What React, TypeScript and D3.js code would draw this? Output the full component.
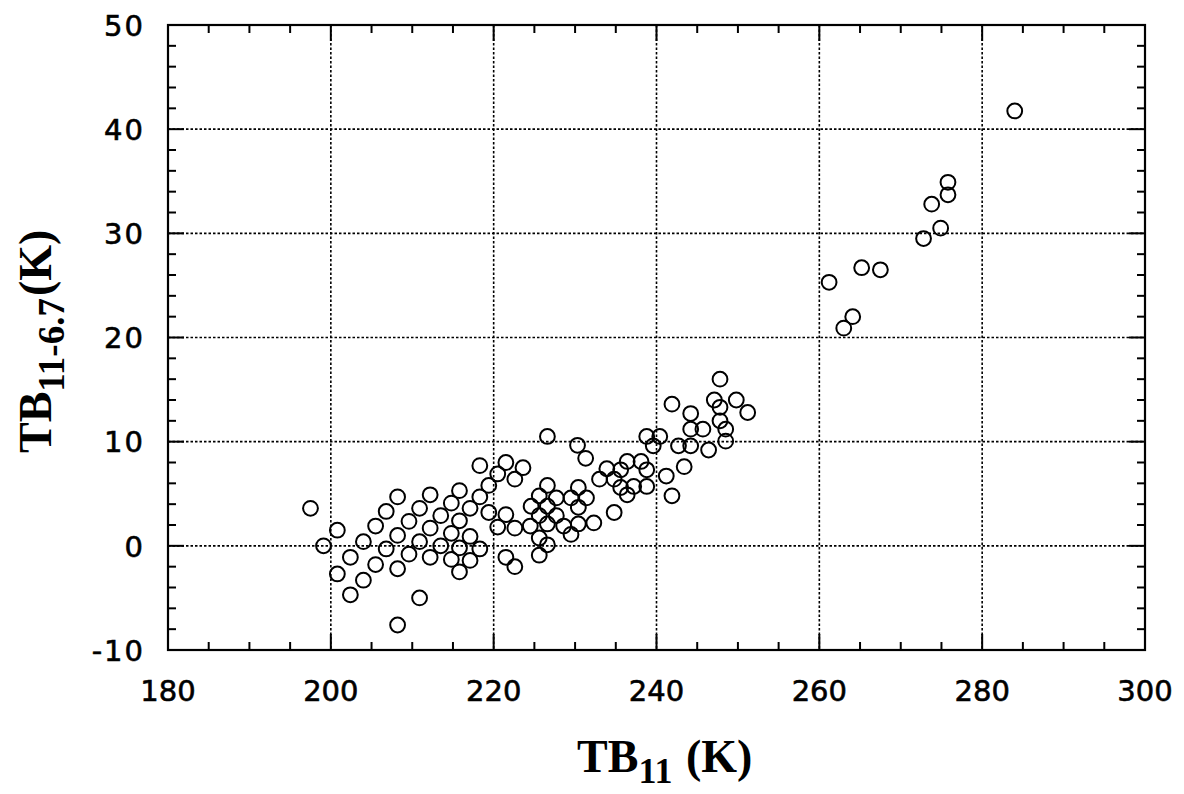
// App.tsx
import React, { useEffect, useRef } from 'react';
import * as d3 from 'd3';

// TB11 (K) of each observation
const tb11: number[] = [
  197.5, 199.1, 200.8, 200.8, 202.4, 202.4, 204.0, 204.0, 205.5, 205.5,
  206.8, 206.8, 208.2, 208.2, 208.2, 208.2, 209.6, 209.6, 210.9, 210.9,
  210.9, 212.2, 212.2, 212.2, 213.5, 213.5, 214.8, 214.8, 214.8, 215.8,
  215.8, 215.8, 215.8, 217.1, 217.1, 217.1, 218.3, 218.3, 218.3, 219.4,
  219.4, 220.5, 220.5, 221.5, 221.5, 221.5, 222.6, 222.6, 222.6, 223.6,
  224.6, 224.5, 226.6, 230.3, 231.3, 225.6, 226.6, 226.6, 227.7, 225.6,
  226.6, 227.7, 225.6, 226.6, 225.6, 228.6, 229.5, 229.5, 230.4, 230.4,
  231.4, 230.4, 232.3, 233.0, 233.9, 234.8, 234.8, 235.6, 235.6, 236.4,
  236.4, 237.2, 238.1, 238.8, 238.8, 238.8, 239.6, 240.4, 241.2, 241.9,
  241.9, 242.7, 243.4, 244.2, 244.2, 244.2, 245.7, 246.4, 247.1, 247.8,
  247.8, 247.8, 248.5, 248.5, 249.8, 251.2,
  275.8, 275.8, 273.8, 274.9, 272.8, 265.2, 267.5, 261.2, 264.1, 263.0,
  284.0,
];

// TB11 - TB6.7 (K) of each observation
const tbDiff: number[] = [
  3.6, 0.0, 1.5, -2.7, -4.7, -1.1, 0.4, -3.3, 1.9, -1.8,
  3.3, -0.3, 4.7, 1.0, -2.2, -7.6, 2.35, -0.8, 3.6, 0.4,
  -5.0, 4.9, 1.7, -1.1, 2.9, 0.0, 4.1, 1.2, -1.3, 5.3,
  2.4, -0.2, -2.5, 3.6, 0.9, -1.4, 4.7, -0.3, 7.7, 5.8,
  3.2, 6.9, 1.8, 8.0, 3.0, -1.1, 6.4, 1.7, -2.0, 7.5,
  3.8, 1.9, 10.5, 9.65, 8.4, 4.8, 5.8, 3.8, 4.6, 2.9,
  2.1, 2.9, 0.75, 0.1, -0.9, 1.9, 1.1, 4.6, 5.6, 3.7,
  4.6, 2.1, 2.2, 6.4, 7.4, 6.4, 3.2, 7.3, 5.6, 8.1,
  4.9, 5.7, 8.1, 7.3, 5.7, 10.5, 9.6, 10.5, 6.7, 13.6,
  4.8, 9.6, 7.6, 12.7, 11.2, 9.6, 11.2, 9.2, 14.0, 13.3,
  12.0, 16.0, 11.2, 10.05, 14.0, 12.8,
  34.9, 33.7, 32.8, 30.5, 29.5, 26.7, 26.5, 25.3, 22.0, 20.9,
  41.75,
];

const xTicks: number[] = [180, 200, 220, 240, 260, 280, 300];
const yTicks: number[] = [-10, 0, 10, 20, 30, 40, 50];

const ScatterTB = () => {
  const svgRef = useRef<SVGSVGElement | null>(null);

  useEffect(() => {
    const svg = d3.select(svgRef.current);
    svg.selectAll('*').remove();

    const width = 1184;
    const height = 794;
    const left = 168, right = 1145, top = 25, bottom = 650;

    const x = d3.scaleLinear().domain([180, 300]).range([left, right]);
    const y = d3.scaleLinear().domain([-10, 50]).range([bottom, top]);

    svg.attr('width', width).attr('height', height);

    // dotted grid
    const grid = svg.append('g')
      .attr('stroke', '#000')
      .attr('stroke-width', 1.6)
      .attr('stroke-dasharray', '2.5,2');
    grid.selectAll('.vg')
      .data(xTicks.slice(1, -1))
      .join('line')
      .attr('x1', d => x(d)).attr('x2', d => x(d))
      .attr('y1', top).attr('y2', bottom);
    grid.selectAll('.hg')
      .data(yTicks.slice(1, -1))
      .join('line')
      .attr('x1', left).attr('x2', right)
      .attr('y1', d => y(d)).attr('y2', d => y(d));

    // inward ticks on all four sides
    const xMinor = d3.range(180, 300.1, 5);
    const yMinor = d3.range(-10, 50.1, 2);
    const tickLen = (major: boolean) => (major ? 16 : 8);
    const ticks = svg.append('g').attr('stroke', '#000').attr('stroke-width', 2);
    xMinor.forEach(v => {
      const len = tickLen(v % 20 === 0);
      ticks.append('line').attr('x1', x(v)).attr('x2', x(v)).attr('y1', bottom).attr('y2', bottom - len);
      ticks.append('line').attr('x1', x(v)).attr('x2', x(v)).attr('y1', top).attr('y2', top + len);
    });
    yMinor.forEach(v => {
      const len = tickLen(v % 10 === 0);
      ticks.append('line').attr('x1', left).attr('x2', left + len).attr('y1', y(v)).attr('y2', y(v));
      ticks.append('line').attr('x1', right).attr('x2', right - len).attr('y1', y(v)).attr('y2', y(v));
    });

    // frame
    svg.append('rect')
      .attr('x', left).attr('y', top)
      .attr('width', right - left).attr('height', bottom - top)
      .attr('fill', 'none')
      .attr('stroke', '#000')
      .attr('stroke-width', 2.2);

    // points
    const pts = tb11.map((v, i) => ({ x: v, y: tbDiff[i] }));
    svg.append('g')
      .selectAll('circle')
      .data(pts)
      .join('circle')
      .attr('cx', d => x(d.x))
      .attr('cy', d => y(d.y))
      .attr('r', 7.4)
      .attr('fill', 'none')
      .attr('stroke', '#000')
      .attr('stroke-width', 2);

    // tick labels
    svg.append('g')
      .selectAll('text')
      .data(xTicks)
      .join('text')
      .attr('x', d => x(d))
      .attr('y', 701)
      .attr('text-anchor', 'middle')
      .attr('font-family', 'DejaVu Sans')
      .attr('font-size', 29)
      .attr('stroke', '#000')
      .attr('stroke-width', 0.6)
      .text(d => d);

    svg.append('g')
      .selectAll('text')
      .data(yTicks)
      .join('text')
      .attr('x', 145)
      .attr('y', d => y(d))
      .attr('dy', '0.37em')
      .attr('text-anchor', 'end')
      .attr('font-family', 'DejaVu Sans')
      .attr('font-size', 29)
      .attr('letter-spacing', 2)
      .attr('stroke', '#000')
      .attr('stroke-width', 0.6)
      .text(d => (d < 0 ? '-' + Math.abs(d) : d));

    // axis titles
    const xt = svg.append('text')
      .attr('x', 577)
      .attr('y', 772)
      .attr('font-family', 'Liberation Serif')
      .attr('font-weight', 'bold')
      .attr('font-size', 46);
    xt.append('tspan').text('TB');
    xt.append('tspan').attr('dy', 11).attr('font-size', 36).text('11');
    xt.append('tspan').attr('dy', -11).attr('dx', 2).text(' (K)');

    const yt = svg.append('text')
      .attr('transform', 'translate(51,453) rotate(-90)')
      .attr('font-family', 'Liberation Serif')
      .attr('font-weight', 'bold')
      .attr('font-size', 46);
    yt.append('tspan').text('TB');
    yt.append('tspan').attr('dy', 13).attr('font-size', 37).text('11-6.7');
    yt.append('tspan').attr('dy', -13).attr('dx', 2).text('(K)');
  }, []);

  return <svg ref={svgRef}></svg>;
};

const App = () => (
  <div style={{ position: 'absolute', left: 0, top: 0 }}>
    <ScatterTB />
  </div>
);

export default App;
